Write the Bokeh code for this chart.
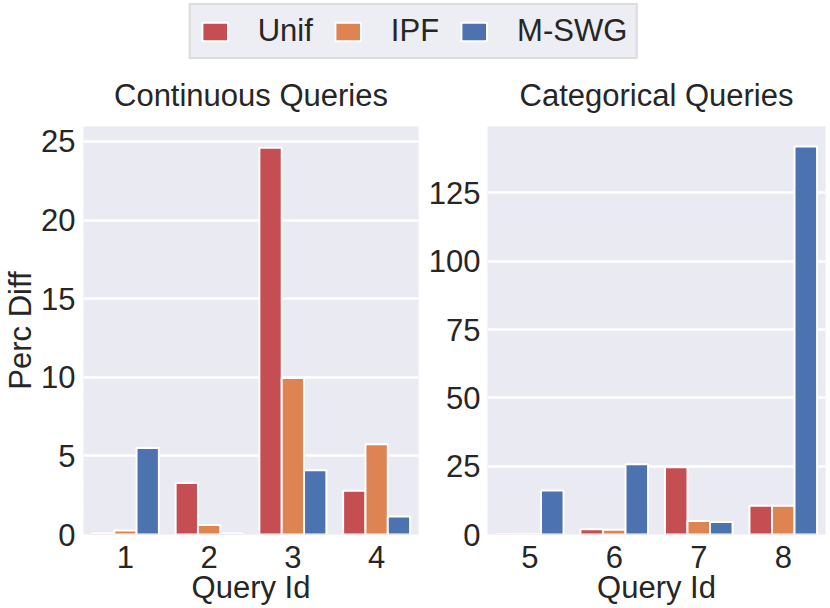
from bokeh.plotting import figure
from bokeh.models import FactorRange, Range1d, FixedTicker, Legend, LegendItem, ColumnDataSource
from bokeh.transform import dodge
from bokeh.layouts import column, row
from bokeh.embed import file_html
from bokeh.resources import INLINE

methods = ["Unif", "IPF", "M-SWG"]
colors = ["#C44E52", "#DD8452", "#4C72B0"]

cont_queries = ["1", "2", "3", "4"]
cont_unif = [0.07, 3.28, 24.6, 2.78]
cont_ipf = [0.26, 0.61, 9.95, 5.74]
cont_mswg = [5.5, 0.07, 4.09, 1.15]

cat_queries = ["5", "6", "7", "8"]
cat_unif = [0.05, 1.9, 24.6, 10.5]
cat_ipf = [0.1, 1.75, 4.9, 10.5]
cat_mswg = [16.1, 25.75, 4.6, 142.0]

cont_ticks = [0, 5, 10, 15, 20, 25]
cat_ticks = [0, 25, 50, 75, 100, 125]

FONT = "Liberation Sans"
TXT = "#262626"
FS = "31px"


def make_panel(queries, unif, ipf, mswg, ymax, ticks, title, ylabel, fw, mbl, mbr, ystand):
    src = ColumnDataSource(dict(q=queries, unif=unif, ipf=ipf, mswg=mswg))
    p = figure(x_range=FactorRange(factors=queries), y_range=Range1d(0, ymax),
               frame_width=fw, frame_height=408, output_backend="svg",
               toolbar_location=None, title=title,
               min_border_left=mbl, min_border_right=mbr,
               min_border_top=64, min_border_bottom=10)
    w = 0.8 / 3
    for key, off, col in zip(["unif", "ipf", "mswg"], [-w, 0, w], colors):
        p.vbar(x=dodge('q', off, range=p.x_range), top=key, width=w, source=src,
               fill_color=col, line_color="white", line_width=2)
    p.background_fill_color = "#EAEAF2"
    p.border_fill_color = "white"
    p.outline_line_color = None
    p.xgrid.grid_line_color = None
    p.ygrid.grid_line_color = "white"
    p.ygrid.grid_line_width = 2.5
    p.yaxis.ticker = FixedTicker(ticks=ticks)
    for ax in p.axis:
        ax.axis_line_color = None
        ax.major_tick_line_color = None
        ax.minor_tick_line_color = None
        ax.major_label_text_font = FONT
        ax.major_label_text_font_size = FS
        ax.major_label_text_color = TXT
        ax.axis_label_text_font = FONT
        ax.axis_label_text_font_size = FS
        ax.axis_label_text_font_style = "normal"
        ax.axis_label_text_color = TXT
    p.xaxis.axis_label = "Query Id"
    p.xaxis.major_label_standoff = 5
    p.xaxis.axis_label_standoff = -1
    p.yaxis.major_label_standoff = ystand
    p.yaxis.axis_label_standoff = 0
    if ylabel:
        p.yaxis.axis_label = ylabel
    p.title.text_font = FONT
    p.title.text_font_size = FS
    p.title.text_font_style = "normal"
    p.title.text_color = TXT
    p.title.align = "center"
    p.title.standoff = 27
    return p


left = make_panel(cont_queries, cont_unif, cont_ipf, cont_mswg, 25.95, cont_ticks,
                  "Continuous Queries", "Perc Diff", 335, 50, 7, 2)
right = make_panel(cat_queries, cat_unif, cat_ipf, cat_mswg, 149.3, cat_ticks,
                   "Categorical Queries", None, 338, 50, 6, 1)

lf = figure(width=826, height=62, output_backend="svg", toolbar_location=None,
            x_range=(0, 1), y_range=(0, 1), min_border=0,
            x_axis_location=None, y_axis_location=None)
lf.grid.visible = False
lf.outline_line_color = None
lf.background_fill_color = "white"
lf.border_fill_color = "white"
rs = [lf.vbar(x=[-10], top=[0], width=0.1, fill_color=c, line_color="white", line_width=2)
      for c in colors]
leg = Legend(items=[LegendItem(label=m, renderers=[r]) for m, r in zip(methods, rs)],
             orientation="horizontal", location="center", margin=0,
             padding=8, spacing=19, label_standoff=27, glyph_width=32, glyph_height=23,
             label_text_font=FONT, label_text_font_size=FS, label_text_color=TXT,
             border_line_color="#CCCCCC", border_line_width=2,
             background_fill_color="#EDEDF4", background_fill_alpha=1.0)
lf.add_layout(leg, "center")

layout = column(lf, row(left, right, spacing=0), spacing=0)

open("out.html", "w").write(file_html(layout, INLINE))
